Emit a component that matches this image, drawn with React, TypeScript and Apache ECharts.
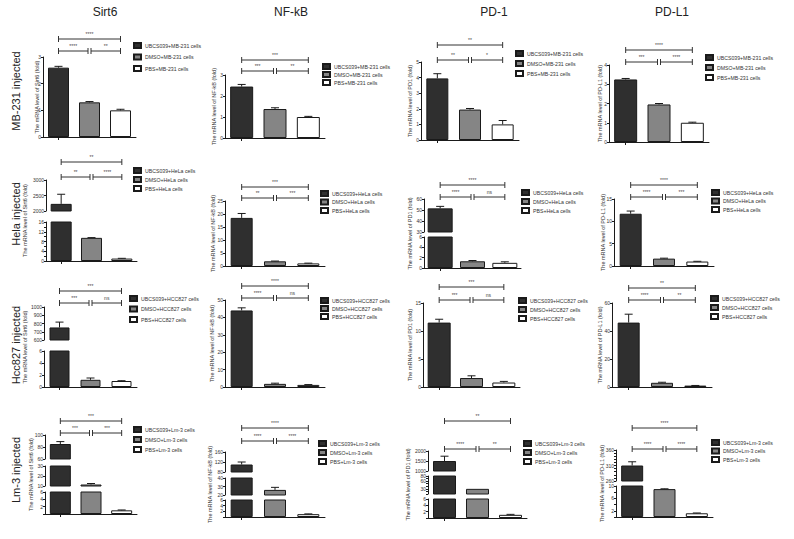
import React, { useEffect, useRef } from "react";
import * as echarts from "echarts";

const FONT = "'Liberation Sans', Arial, sans-serif";

// ---------------- data ----------------
const genes = ["Sirt6", "NF-kB", "PD-1", "PD-L1"];
const axisGeneNames = ["Sirt6", "NF-kB", "PD1", "PD-L1"];
const rowLabels = ["MB-231 injected", "Hela injected", "Hcc827 injected", "Lm-3 injected"];
const cellLines = ["MB-231", "HeLa", "HCC827", "Lm-3"];
const groupPrefixes = ["UBCS039", "DMSO", "PBS"];

// rows: MB-231, HeLa, HCC827, Lm-3 ; values: UBCS039, DMSO, PBS
const sirt6Means = [[2.6, 1.3, 1.0], [2230, 9.5, 1.0], [752, 1.2, 1.0], [85, 11.5, 1.0]];
const sirt6Errors = [[0.05, 0.03, 0.04], [310, 0.1, 0.1], [65, 0.3, 0.05], [4, 1.0, 0.1]];
const nfkbMeans = [[2.45, 1.38, 1.0], [18.5, 1.8, 1.0], [44, 1.8, 1.2], [110, 26, 1.0]];
const nfkbErrors = [[0.1, 0.06, 0.03], [1.7, 0.1, 0.1], [1.5, 0.4, 0.2], [10, 3, 0.1]];
const pd1Means = [[3.95, 1.95, 1.0], [51.5, 1.3, 1.0], [11.5, 1.6, 0.8], [1500, 30, 1.0]];
const pd1Errors = [[0.3, 0.07, 0.25], [1.8, 0.15, 0.2], [0.6, 0.4, 0.2], [240, 0, 0.15]];
const pdl1Means = [[3.25, 1.95, 1.0], [11.7, 1.65, 1.0], [46, 3, 1.0], [310, 9, 1.2]];
const pdl1Errors = [[0.05, 0.05, 0.03], [0.6, 0.1, 0.05], [6, 0.4, 0.1], [12, 0.1, 0.1]];

// significance: [UBCS vs PBS, UBCS vs DMSO, DMSO vs PBS]
const sirt6Stars = [["****", "****", "**"], ["**", "**", "****"], ["***", "***", "ns"], ["***", "***", "***"]];
const nfkbStars = [["***", "***", "**"], ["***", "**", "***"], ["****", "****", "ns"], ["****", "****", "****"]];
const pd1Stars = [["**", "**", "*"], ["****", "****", "ns"], ["***", "***", "ns"], ["**", "****", "**"]];
const pdl1Stars = [["****", "***", "****"], ["****", "****", "***"], ["**", "****", "**"], ["****", "****", "****"]];

// y-axis segments, top to bottom: [min, max, interval, label values?]
const sirt6Scales: any[] = [
  [[0, 3, 1]],
  [[2000, 3000, 500], [0, 16, 2, [0, 4, 8, 12, 16]]],
  [[600, 1000, 100], [0, 6, 2]],
  [[60, 100, 20], [10, 30, 10], [0, 6, 2, [2, 4, 6]]],
];
const nfkbScales: any[] = [
  [[0, 3, 1]],
  [[0, 25, 5]],
  [[0, 50, 10]],
  [[80, 160, 40], [20, 40, 10], [0, 6, 2, [2, 4, 6]]],
];
const pd1Scales: any[] = [
  [[0, 5, 1]],
  [[30, 60, 10], [0, 6, 2]],
  [[0, 15, 5]],
  [[1000, 2000, 500], [10, 80, 10, [30, 60, 80]], [0, 6, 2, [2, 4, 6]]],
];
const pdl1Scales: any[] = [
  [[0, 4, 1]],
  [[0, 15, 5]],
  [[0, 60, 20]],
  [[260, 360, 10, [260, 310, 360]], [0, 10, 2, [2, 6, 10]]],
];

// ---------------- layout (pixels) ----------------
const LAYOUT: any[][] = [
  [
    { left: 43, right: 136, segs: [[57, 137]], bw: 21, br: [39, 51], lg: [133, 42, 10.5], yt: 37 },
    { left: 225, right: 325, segs: [[75, 138]], bw: 23, br: [60, 71], lg: [322, 63, 7], yt: 214 },
    { left: 421, right: 519, segs: [[62, 140]], bw: 22, br: [45, 60], lg: [515, 50, 9], yt: 410 },
    { left: 609, right: 709, segs: [[65, 142]], bw: 23, br: [50, 62], lg: [705, 54, 9], yt: 600 },
  ],
  [
    { left: 46, right: 137, segs: [[180, 211], [222, 261]], bw: 21, br: [162, 177], lg: [133, 167, 8], yt: 25 },
    { left: 225, right: 325, segs: [[201, 266]], bw: 22, br: [187, 198], lg: [320, 190, 7.5], yt: 213 },
    { left: 424, right: 521, segs: [[199, 232], [237, 268]], bw: 25, br: [185, 197], lg: [521, 189, 8], yt: 410 },
    { left: 614, right: 714, segs: [[199, 266]], bw: 22, br: [185, 197], lg: [711, 189, 7.5], yt: 603 },
  ],
  [
    { left: 44, right: 137, segs: [[307, 340], [351, 387]], bw: 20, br: [291, 303], lg: [129, 295, 9.5], yt: 25 },
    { left: 225, right: 325, segs: [[300, 387]], bw: 22, br: [286, 298], lg: [320, 297, 7], yt: 212 },
    { left: 423, right: 520, segs: [[303, 387]], bw: 23, br: [287, 300], lg: [518, 297, 8], yt: 410 },
    { left: 612, right: 712, segs: [[303, 387]], bw: 22, br: [288, 300], lg: [710, 295, 8], yt: 600 },
  ],
  [
    { left: 45, right: 137, segs: [[435, 459], [466, 486], [492, 514]], bw: 21, br: [421, 433], lg: [133, 426, 9], yt: 31 },
    { left: 225, right: 325, segs: [[452, 472], [478, 495], [500, 517]], bw: 22, br: [428, 441], lg: [318, 440, 8], yt: 210 },
    { left: 428, right: 527, segs: [[451, 471], [476, 494], [499, 518]], bw: 23, br: [421, 449], lg: [523, 440, 8], yt: 408 },
    { left: 616, right: 713, segs: [[450, 481], [486, 517]], bw: 22, br: [428, 449], lg: [711, 439, 7.5], yt: 602 },
  ],
];
const TITLE_X = [105, 291, 494, 672];
const ROW_Y = [91, 214, 345, 470];
const COLORS = ["#2f2f2f", "#858585", "#ffffff"];
const INK = "#1a1a1a";

const errorRender = (_params: any, api: any) => {
  const i = api.value(0);
  const m = api.value(1);
  const e = api.value(2);
  const p0 = api.coord([i, m]);
  const p1 = api.coord([i, m + e]);
  const hw = 4;
  const st = { stroke: INK, lineWidth: 1 };
  return {
    type: "group",
    children: [
      { type: "line", shape: { x1: p0[0], y1: p0[1], x2: p1[0], y2: p1[1] }, style: st },
      { type: "line", shape: { x1: p1[0] - hw, y1: p1[1], x2: p1[0] + hw, y2: p1[1] }, style: st },
    ],
  };
};

const makeBracketRender = (labels: string[]) => (params: any, api: any) => {
  const i1 = api.value(0);
  const i2 = api.value(1);
  const lv = api.value(2);
  const p1 = api.coord([i1, lv]);
  const p2 = api.coord([i2, lv]);
  let x1 = p1[0];
  let x2 = p2[0];
  const y = p1[1];
  if (lv === 0) {
    if (i1 === 1) x1 += 1.5;
    if (i2 === 1) x2 -= 1.5;
  }
  const st = { stroke: "#333", lineWidth: 1 };
  return {
    type: "group",
    children: [
      { type: "line", shape: { x1, y1: y, x2, y2: y }, style: st },
      { type: "line", shape: { x1, y1: y - 3, x2: x1, y2: y + 3 }, style: st },
      { type: "line", shape: { x1: x2, y1: y - 3, x2, y2: y + 3 }, style: st },
      {
        type: "text",
        x: (x1 + x2) / 2,
        y: y - 3,
        style: {
          legacy: false,
          text: labels[params.dataIndex],
          fontSize: 5,
          fontFamily: FONT,
          fill: "#444",
          align: "center",
          verticalAlign: "bottom",
        },
      },
    ],
  };
};

const numLabel = (v: number) => String(v);

function buildOption() {
  const grid: any[] = [];
  const xAxis: any[] = [];
  const yAxis: any[] = [];
  const series: any[] = [];
  const legend: any[] = [];
  const graphic: any[] = [];

  const meansAll = [sirt6Means, nfkbMeans, pd1Means, pdl1Means];
  const errsAll = [sirt6Errors, nfkbErrors, pd1Errors, pdl1Errors];
  const starsAll = [sirt6Stars, nfkbStars, pd1Stars, pdl1Stars];
  const scalesAll = [sirt6Scales, nfkbScales, pd1Scales, pdl1Scales];

  genes.forEach((g, c) => {
    graphic.push({
      type: "text",
      x: TITLE_X[c],
      y: 12,
      style: { text: g, fontSize: 12, fontFamily: FONT, fill: "#222", align: "center", verticalAlign: "middle" },
    });
  });
  rowLabels.forEach((t, r) => {
    graphic.push({
      type: "text",
      x: 16,
      y: ROW_Y[r],
      rotation: Math.PI / 2,
      style: { text: t, fontSize: 11, fontFamily: FONT, fill: "#222", align: "center", verticalAlign: "middle" },
    });
  });

  for (let r = 0; r < 4; r++) {
    for (let c = 0; c < 4; c++) {
      const L = LAYOUT[r][c];
      const means = meansAll[c][r];
      const errs = errsAll[c][r];
      const stars = starsAll[c][r];
      const scales = scalesAll[c][r];
      const names = groupPrefixes.map((p) => `${p}+${cellLines[r]} cells`);
      const width = L.right - L.left;

      L.segs.forEach((seg: number[], s: number) => {
        const gi = grid.length;
        const last = s === L.segs.length - 1;
        grid.push({ left: L.left, top: seg[0], width, height: seg[1] - seg[0] });
        xAxis.push({
          gridIndex: gi,
          type: "category",
          data: groupPrefixes,
          axisLine: { show: last, lineStyle: { color: INK, width: 1 } },
          axisTick: { show: last, alignWithLabel: true, length: 3, lineStyle: { color: INK } },
          axisLabel: { show: false },
          splitLine: { show: false },
        });
        const [mn, mx, iv, lbls] = scales[s];
        const ya: any = {
          gridIndex: gi,
          type: "value",
          min: mn,
          max: mx,
          interval: iv,
          axisLine: { show: true, lineStyle: { color: INK, width: 1 } },
          axisTick: { show: true, length: 2, lineStyle: { color: INK } },
          axisLabel: { fontSize: 5, margin: 2, color: "#333", fontFamily: FONT, formatter: numLabel },
          splitLine: { show: false },
        };
        if (lbls) {
          ya.axisLabel.customValues = lbls;
          if (mn % iv !== 0) ya.axisTick.customValues = lbls;
        }
        yAxis.push(ya);
        names.forEach((nm, k) => {
          series.push({
            type: "bar",
            name: nm,
            xAxisIndex: gi,
            yAxisIndex: gi,
            barWidth: L.bw,
            barGap: "-100%",
            clip: true,
            silent: true,
            data: means.map((v: number, j: number) => (j === k ? v : "-")),
            itemStyle: { color: COLORS[k], borderColor: INK, borderWidth: 1 },
          });
        });
        const errData = means
          .map((v: number, j: number) => [j, v, errs[j]])
          .filter((d: number[]) => d[1] >= mn && d[1] <= mx && d[2] > 0);
        series.push({
          type: "custom",
          xAxisIndex: gi,
          yAxisIndex: gi,
          silent: true,
          z: 5,
          itemStyle: { color: INK },
          data: errData,
          renderItem: errorRender,
        });
      });

      // bracket grid
      const bi = grid.length;
      grid.push({ left: L.left, top: L.br[0], width, height: L.br[1] - L.br[0] });
      xAxis.push({ gridIndex: bi, type: "category", data: groupPrefixes, show: false });
      yAxis.push({ gridIndex: bi, type: "value", min: 0, max: 1, show: false });
      series.push({
        type: "custom",
        xAxisIndex: bi,
        yAxisIndex: bi,
        silent: true,
        itemStyle: { color: "#444" },
        data: [
          [0, 2, 1],
          [0, 1, 0],
          [1, 2, 0],
        ],
        renderItem: makeBracketRender(stars),
      });

      legend.push({
        orient: "vertical",
        left: L.lg[0],
        top: L.lg[1],
        padding: 0,
        itemWidth: 7,
        itemHeight: 5,
        itemGap: L.lg[2] - 6,
        icon: "rect",
        selectedMode: false,
        data: names,
        textStyle: { fontSize: 5.2, lineHeight: 6, color: "#333", fontFamily: FONT, padding: [0, 0, 0, -1] },
      });

      const segTop = L.segs[0][0];
      const segBot = L.segs[L.segs.length - 1][1];
      graphic.push({
        type: "text",
        x: L.yt,
        y: (segTop + segBot) / 2,
        rotation: Math.PI / 2,
        style: {
          text: `The mRNA level of ${axisGeneNames[c]} (fold)`,
          fontSize: 5.5,
          fontFamily: FONT,
          fill: "#333",
          align: "center",
          verticalAlign: "middle",
        },
      });
    }
  }

  return {
    animation: false,
    backgroundColor: "#ffffff",
    color: ["#444444"],
    grid,
    xAxis,
    yAxis,
    series,
    legend,
    graphic,
  };
}

export default function App() {
  const ref = useRef<HTMLDivElement>(null);
  useEffect(() => {
    if (!ref.current) return;
    const chart = echarts.init(ref.current, null, { renderer: "svg" });
    chart.setOption(buildOption() as any);
    return () => chart.dispose();
  }, []);
  return (
    <div
      ref={ref}
      style={{ position: "fixed", left: 0, top: 0, width: 794, height: 539, background: "#fff" }}
    />
  );
}
